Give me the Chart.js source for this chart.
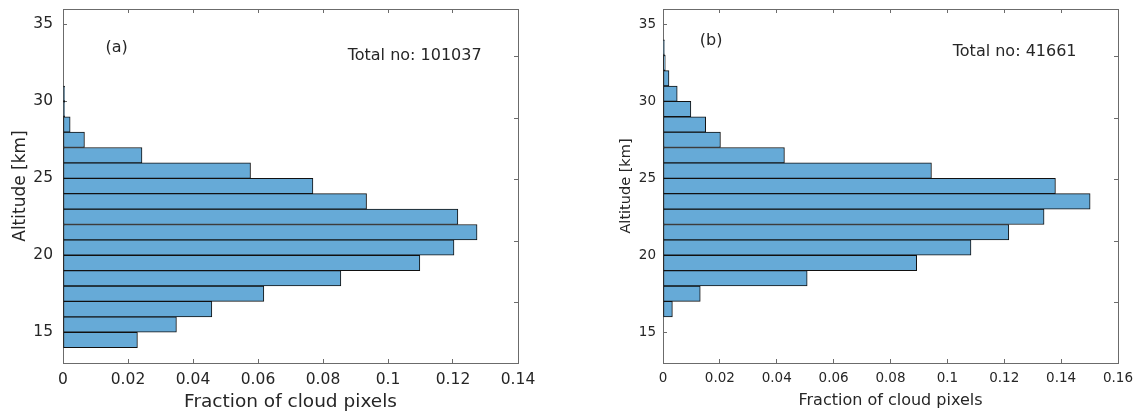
<!DOCTYPE html>
<html>
<head>
<meta charset="utf-8">
<script src="https://cdn.jsdelivr.net/npm/chart.js@4.4.1/dist/chart.umd.min.js"></script>
<style>
  html, body { margin: 0; padding: 0; background: #fff; }
  body { width: 1139px; height: 413px; position: relative; overflow: hidden; }
  .panel { position: absolute; top: 0; height: 413px; }
  #panel-a { left: 0; width: 560px; }
  #panel-b { left: 580px; width: 559px; }
</style>
</head>
<body>
<div class="panel" id="panel-a"><canvas id="chart-a"></canvas></div>
<div class="panel" id="panel-b"><canvas id="chart-b"></canvas></div>
<script>
// 1 km altitude bins (bin centres) and fraction of cloud pixels per bin
const altitudeA = [14.5, 15.5, 16.5, 17.5, 18.5, 19.5, 20.5, 21.5, 22.5, 23.5, 24.5, 25.5, 26.5, 27.5, 28.5, 29.5, 30.5];
const fractionA = [0.0229, 0.0349, 0.0458, 0.0618, 0.0855, 0.1098, 0.1203, 0.1274, 0.1215, 0.0934, 0.0769, 0.0577, 0.0243, 0.0066, 0.0022, 0.0005, 0.0005];

const altitudeB = [16.5, 17.5, 18.5, 19.5, 20.5, 21.5, 22.5, 23.5, 24.5, 25.5, 26.5, 27.5, 28.5, 29.5, 30.5, 31.5, 32.5, 33.5];
const fractionB = [0.0033, 0.0131, 0.0507, 0.0892, 0.1083, 0.1216, 0.1340, 0.1502, 0.1380, 0.0944, 0.0427, 0.0202, 0.0150, 0.0098, 0.0050, 0.0021, 0.0008, 0.0005];

const altitudeTicks = [15, 20, 25, 30, 35];
const fractionTicksA = [0, 0.02, 0.04, 0.06, 0.08, 0.1, 0.12, 0.14];
const fractionTicksB = [0, 0.02, 0.04, 0.06, 0.08, 0.1, 0.12, 0.14, 0.16];

const panelLabels = ["(a)", "(b)"];
const totals = ["Total no: 101037", "Total no: 41661"];

const FONT = "'DejaVu Sans', sans-serif";
const AXIS_GREY = "#6b6b6b";
const TEXT = "#262626";

const textPlugin = {
  id: "panelText",
  afterDraw(chart) {
    const t = chart.options.plugins.panelText;
    const ctx = chart.ctx;
    const xs = chart.scales.x, ys = chart.scales.y;
    ctx.save();
    ctx.fillStyle = TEXT;
    ctx.font = "16px " + FONT;
    ctx.textBaseline = "middle";
    ctx.textAlign = "center";
    ctx.fillText(t.label, xs.getPixelForValue(t.labelAt[0]), ys.getPixelForValue(t.labelAt[1]));
    ctx.textAlign = "left";
    ctx.fillText(t.total, xs.getPixelForValue(t.totalAt[0]), ys.getPixelForValue(t.totalAt[1]));
    ctx.restore();
  },
};

function fixTicks(list) {
  return (scale) => { scale.ticks = list.map((v) => ({ value: v })); };
}

// fixed axis sizes so the plot box lands where the reference has it
function fixSize(prop, size) {
  return (s) => {
    s[prop] = size;
    s.paddingTop = 0;
    s.paddingBottom = 0;
    s.paddingLeft = 0;
    s.paddingRight = 0;
  };
}

function makeChart(id, altitude, fraction, xTicks, cfg) {
  const xMax = xTicks[xTicks.length - 1];
  const edgeGrid = { drawOnChartArea: false, drawTicks: true, tickLength: -4, color: AXIS_GREY, offset: false };
  const edgeBorder = { display: true, color: AXIS_GREY, width: 1 };

  return new Chart(document.getElementById(id), {
    type: "bar",
    data: {
      datasets: [{
        data: altitude.map((a, i) => ({ x: fraction[i], y: a })),
        backgroundColor: "#66aad7",
        borderColor: "#111",
        borderWidth: 1,
        borderSkipped: false,
        barPercentage: 1,
        categoryPercentage: 1,
      }],
    },
    options: {
      indexAxis: "y",
      responsive: true,
      maintainAspectRatio: false,
      animation: false,
      devicePixelRatio: 1,
      layout: { padding: { left: 0, right: cfg.padRight, top: 9, bottom: 0 } },
      plugins: {
        legend: { display: false },
        tooltip: { enabled: false },
        panelText: cfg.text,
      },
      scales: {
        x: {
          type: "linear",
          position: "bottom",
          min: 0,
          max: xMax,
          grid: edgeGrid,
          border: edgeBorder,
          afterBuildTicks: fixTicks(xTicks),
          afterFit: fixSize("height", 50),
          ticks: {
            color: TEXT,
            font: { family: FONT, size: cfg.tickSize },
            padding: cfg.xTickPad,
            maxRotation: 0,
            autoSkip: false,
            callback: (v) => String(v),
          },
          title: {
            display: true,
            text: "Fraction of cloud pixels",
            color: TEXT,
            font: { family: FONT, size: cfg.titleSize },
            padding: { top: 0, bottom: cfg.xTitlePad },
          },
        },
        y: {
          type: "linear",
          position: "left",
          min: 13,
          max: 36,
          offset: false,
          grid: edgeGrid,
          border: edgeBorder,
          afterBuildTicks: fixTicks(altitudeTicks),
          afterFit: fixSize("width", cfg.yWidth),
          ticks: {
            color: TEXT,
            font: { family: FONT, size: cfg.tickSize },
            padding: cfg.yTickPad,
            autoSkip: false,
          },
          title: {
            display: true,
            text: "Altitude [km]",
            color: TEXT,
            font: { family: FONT, size: cfg.yTitleSize },
            padding: { top: cfg.yTitlePad, bottom: 0 },
          },
        },
        x2: {
          type: "linear",
          position: "top",
          min: 0,
          max: xMax,
          grid: edgeGrid,
          border: edgeBorder,
          afterBuildTicks: fixTicks(xTicks),
          afterFit: fixSize("height", 0),
          ticks: { display: false },
        },
        y2: {
          type: "linear",
          position: "right",
          min: 13,
          max: 36,
          grid: edgeGrid,
          border: edgeBorder,
          afterBuildTicks: fixTicks(altitudeTicks),
          afterFit: fixSize("width", 0),
          ticks: { display: false },
        },
      },
    },
    plugins: [textPlugin],
  });
}

makeChart("chart-a", altitudeA, fractionA, fractionTicksA, {
  padRight: 42, yWidth: 63, tickSize: 15.5, titleSize: 18.5, yTitleSize: 17,
  xTickPad: 12, yTickPad: 14, xTitlePad: 0, yTitlePad: 10,
  text: { label: panelLabels[0], labelAt: [0.0165, 33.5], total: totals[0], totalAt: [0.0876, 32.95] },
});

makeChart("chart-b", altitudeB, fractionB, fractionTicksB, {
  padRight: 21, yWidth: 83, tickSize: 13.5, titleSize: 16, yTitleSize: 14.5,
  xTickPad: 11, yTickPad: 11, xTitlePad: 3, yTitlePad: 38,
  text: { label: panelLabels[1], labelAt: [0.0169, 33.9], total: totals[1], totalAt: [0.1019, 33.2] },
});
</script>
</body>
</html>
